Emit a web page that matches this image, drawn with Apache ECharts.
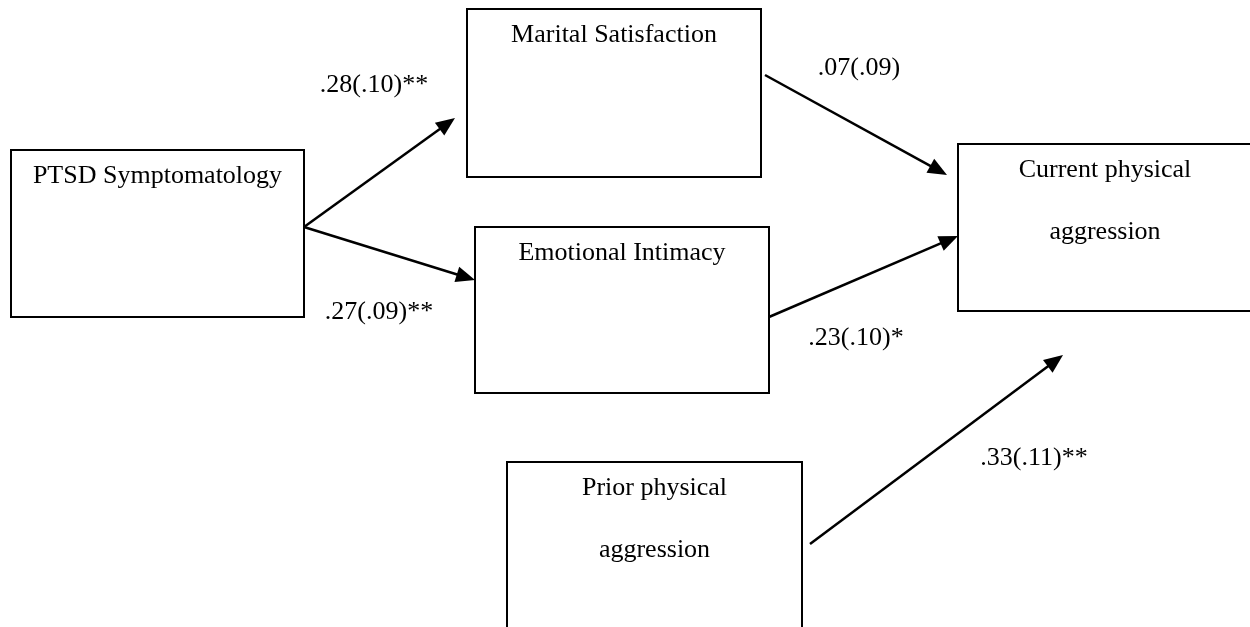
<!DOCTYPE html>
<html>
<head>
<meta charset="utf-8">
<script src="https://cdn.jsdelivr.net/npm/echarts@6/dist/echarts.min.js"></script>
<style>
  html, body { margin: 0; padding: 0; background: #fff; }
  #chart { width: 1250px; height: 627px; }
</style>
</head>
<body>
<div id="chart"></div>
<script>
// boxes (diagram units = pixels of the original figure)
var boxNames = [
    ['PTSD Symptomatology'],
    ['Marital Satisfaction'],
    ['Emotional Intimacy'],
    ['Current physical', 'aggression'],
    ['Prior physical', 'aggression']
];
var boxLeft   = [11, 467, 475, 958, 507];
var boxTop    = [150, 9, 227, 144, 462];
var boxRight  = [304, 761, 769, 1252, 802];
var boxBottom = [317, 177, 393, 311, 640];

// paths: start point, arrow tip, coefficient text and where it sits
var pathFrom = [[304, 227], [304, 227], [765, 75], [769, 317], [810, 544]];
var pathTo   = [[455, 118], [475, 280], [947, 175], [958, 236], [1063, 355]];
var pathCoef = ['.28(.10)**', '.27(.09)**', '.07(.09)', '.23(.10)*', '.33(.11)**'];
var coefPos  = [[374, 85], [379, 312], [859, 68], [856, 338], [1034, 458]];

var font = '"Liberation Serif", "Times New Roman", serif';
var fontSize = 26;

var boxData = boxNames.map(function (n, i) {
    return [boxLeft[i], boxTop[i], boxRight[i], boxBottom[i], i];
});
var pathData = pathFrom.map(function (p, i) {
    return [p[0], p[1], pathTo[i][0], pathTo[i][1], i];
});
var coefData = coefPos.map(function (p, i) {
    return [p[0], p[1], i];
});

var option = {
    animation: false,
    grid: { left: 0, right: 0, top: 0, bottom: 0 },
    xAxis: { type: 'value', min: 0, max: 1250, show: false },
    yAxis: { type: 'value', min: 0, max: 627, inverse: true, show: false },
    series: [
        {
            type: 'custom',
            name: 'boxes',
            data: boxData,
            encode: { x: [0, 2], y: [1, 3] },
            renderItem: function (params, api) {
                var p0 = api.coord([api.value(0), api.value(1)]);
                var p1 = api.coord([api.value(2), api.value(3)]);
                var idx = api.value(4);
                var children = [{
                    type: 'rect',
                    shape: { x: p0[0], y: p0[1], width: p1[0] - p0[0], height: p1[1] - p0[1] },
                    style: { fill: '#fff', stroke: '#000', lineWidth: 2 }
                }];
                var cx = (p0[0] + p1[0]) / 2;
                boxNames[idx].forEach(function (line, k) {
                    children.push({
                        type: 'text',
                        style: {
                            x: cx, y: p0[1] + 26 + k * 62,
                            text: line, fill: '#000',
                            font: fontSize + 'px ' + font,
                            align: 'center', verticalAlign: 'middle'
                        }
                    });
                });
                return { type: 'group', children: children };
            },
            z: 1
        },
        {
            type: 'custom',
            name: 'paths',
            data: pathData,
            encode: { x: [0, 2], y: [1, 3] },
            renderItem: function (params, api) {
                var a = api.coord([api.value(0), api.value(1)]);
                var b = api.coord([api.value(2), api.value(3)]);
                var dx = b[0] - a[0], dy = b[1] - a[1];
                var len = Math.sqrt(dx * dx + dy * dy);
                var ux = dx / len, uy = dy / len;
                var headLen = 19, headW = 8;
                var bx = b[0] - ux * headLen, by = b[1] - uy * headLen;
                return {
                    type: 'group',
                    children: [{
                        type: 'line',
                        shape: { x1: a[0], y1: a[1], x2: bx + ux * 2, y2: by + uy * 2 },
                        style: { stroke: '#000', lineWidth: 2.5 }
                    }, {
                        type: 'polygon',
                        shape: { points: [
                            [b[0], b[1]],
                            [bx - uy * headW, by + ux * headW],
                            [bx + uy * headW, by - ux * headW]
                        ] },
                        style: { fill: '#000' }
                    }]
                };
            },
            z: 2
        },
        {
            type: 'custom',
            name: 'coefficients',
            data: coefData,
            encode: { x: 0, y: 1 },
            renderItem: function (params, api) {
                var p = api.coord([api.value(0), api.value(1)]);
                return {
                    type: 'text',
                    style: {
                        x: p[0], y: p[1],
                        text: pathCoef[api.value(2)], fill: '#000',
                        font: fontSize + 'px ' + font,
                        align: 'center', verticalAlign: 'middle'
                    }
                };
            },
            z: 3
        }
    ]
};
echarts.init(document.getElementById('chart')).setOption(option);
</script>
</body>
</html>
